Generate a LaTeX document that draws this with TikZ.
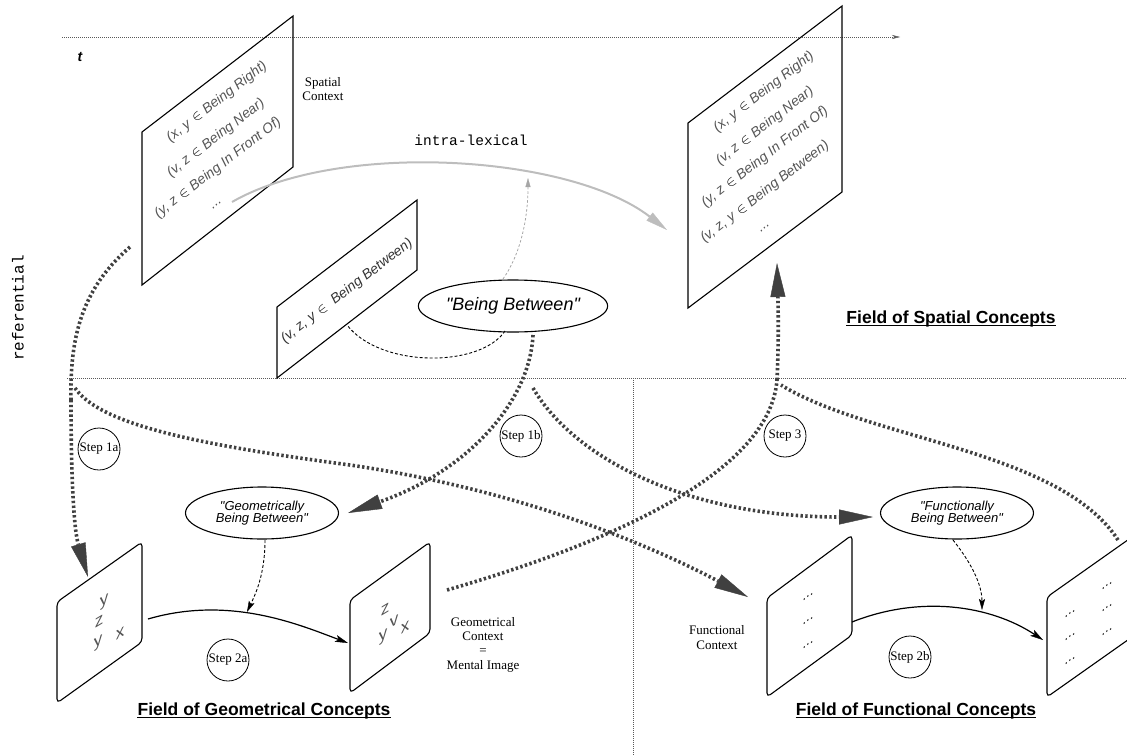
\documentclass[tikz,border=0pt]{standalone}
\usepackage{fontspec}
\setmainfont{Liberation Serif}
\newfontfamily\hv{Liberation Sans}
\newfontfamily\lmono{Liberation Mono}
\usetikzlibrary{arrows.meta,shapes.geometric}
\definecolor{dk}{HTML}{404040}
\definecolor{lg}{HTML}{BDBDBD}
\definecolor{ptxt}{HTML}{555555}
\newcommand{\myin}{\hspace{0.35em}{\color{black}\fontsize{15}{15}\selectfont$\in$}\hspace{0.3em}}
\tikzset{
  thinline/.style={draw=black!65, line width=0.8pt, dash pattern=on 1pt off 1pt},
  panel/.style={draw=black, line width=1.1pt, line join=miter},
  rpanel/.style={draw=black, line width=1.1pt, rounded corners=4pt},
  ptext/.style={rotate=37.5, inner sep=0pt, text=ptxt, font=\hv\itshape\fontsize{14}{14}\selectfont},
  letter/.style={inner sep=0pt, yslant=0.6, text=ptxt, font=\hv\fontsize{17}{17}\selectfont},
  fdots/.style={inner sep=0pt, yslant=0.7, font=\hv\fontsize{13}{13}\selectfont},
  serif/.style={align=center, inner sep=0pt, font=\fontsize{13}{14.3}\selectfont},
  stepc/.style={circle, draw, line width=0.8pt, minimum size=42pt, inner sep=0pt, font=\fontsize{13}{13}\selectfont},
  oval/.style={ellipse, draw, line width=1.1pt, minimum width=153pt, minimum height=52pt, inner sep=0pt, align=center},
  title/.style={anchor=base, inner sep=0pt, font=\hv\bfseries\fontsize{17.5}{17.5}\selectfont},
  bigdot/.style={draw=dk, line width=3.6pt, dash pattern=on 2.4pt off 2.4pt},
  bighead/.style={-{Triangle[length=34pt,width=15pt,line width=0.4pt]}},
  graycurve/.style={draw=lg, line width=2pt, -{Triangle[length=22pt,width=10pt,line width=0.4pt]}},
  thindash/.style={draw=black, line width=0.9pt, dash pattern=on 3pt off 2pt},
  blackhead/.style={-{Stealth[length=11pt,width=6pt,inset=2pt,line width=0.4pt]}},
  solidarrow/.style={draw=black, line width=1.2pt, -{Stealth[length=13pt,width=7pt,inset=3pt,line width=0.4pt]}}
}
\begin{document}
\begin{tikzpicture}[x=1pt,y=-1pt]
\useasboundingbox (0,0) rectangle (1127,755);
\clip (0,0) rectangle (1127,755);

% ---- guide lines ----
\coordinate (tl0) at (62,37); \coordinate (tl1) at (900,37);
\draw[thinline, -{Stealth[length=8pt,width=4pt,line width=0.4pt]}] (tl0) -- (tl1);
\coordinate (h0) at (67,378); \coordinate (h1) at (1127,378);
\draw[thinline] (h0) -- (h1);
\coordinate (v0) at (633,378); \coordinate (v1) at (633,755);
\draw[thinline] (v0) -- (v1);

\node[font=\hv\bfseries\itshape\fontsize{14}{14}\selectfont] (t) at (80,57) {t};
\node[rotate=90, font=\lmono\fontsize{16}{16}\selectfont] (ref) at (18,308) {referential};
\node[font=\lmono\fontsize{14.5}{14.5}\selectfont] (intra) at (471,140) {intra-lexical};

% ---- top-left panel ----
\draw[panel] (142,132) -- (293,16) -- (293,167) -- (142,285) -- cycle;
\node[ptext] (tl1t) at (217,102) {(x, y\myin Being Right)};
\node[ptext] (tl2t) at (216,138) {(v, z\myin Being Near)};
\node[ptext] (tl3t) at (218,168) {(y, z\myin Being In Front Of)};
\node[ptext] (tl4t) at (217,205) {...};
\node[serif] (spc) at (323,89) {Spatial\\Context};

% ---- top-right panel ----
\draw[panel] (688,123) -- (842,6) -- (842,192) -- (688,308) -- cycle;
\node[ptext] (tr1t) at (764,92) {(x, y\myin Being Right)};
\node[ptext] (tr2t) at (765,126) {(v, z\myin Being Near)};
\node[ptext] (tr3t) at (765,157) {(y, z\myin Being In Front Of)};
\node[ptext] (tr4t) at (765,192) {(v, z, y\myin Being Between)};
\node[ptext] (tr5t) at (765,228) {...};

% ---- middle panel ----
\draw[panel] (277,307) -- (417,200) -- (417,270) -- (277,378) -- cycle;
\node[ptext, text=black!80] (mpt) at (347,291) {(v, z, y\myin\ Being Between)};

% ---- ellipses ----
\node[oval, font=\hv\itshape\fontsize{18}{18}\selectfont] (bb) at (513,306) {"Being Between"};
\node[oval, font=\hv\itshape\fontsize{13}{12.7}\selectfont] (gbb) at (262,513) {"Geometrically\\Being Between"};
\node[oval, font=\hv\itshape\fontsize{13}{12.7}\selectfont] (fbb) at (957,513) {"Functionally\\Being Between"};

% ---- step circles ----
\node[stepc] (s1a) at (99,449) {Step 1a};
\node[stepc] (s1b) at (521,436) {Step 1b};
\node[stepc] (s3) at (785,436) {Step 3};
\node[stepc] (s2a) at (228,660) {Step 2a};
\node[stepc] (s2b) at (910,657) {Step 2b};

% ---- bottom panels ----
\draw[rpanel] (57,602) -- (142,542) -- (142,642) -- (57,703) -- cycle;
\node[letter] (gl1) at (104,602) {y};
\node[letter] (gl2) at (99,621) {z};
\node[letter] (gl3) at (98,643) {y};
\node[letter] (gl4) at (120,633) {x};

\draw[rpanel] (350,600) -- (430,542) -- (430,633) -- (350,693) -- cycle;
\node[letter] (gr1) at (385,609) {z};
\node[letter] (gr2) at (394,621) {v};
\node[letter] (gr3) at (383,637) {y};
\node[letter] (gr4) at (405,627) {x};
\node[serif] (gctx) at (483,644.5) {Geometrical\\Context\\=\\Mental Image};

\draw[rpanel] (767,598) -- (852,535) -- (852,635) -- (767,697) -- cycle;
\node[fdots] (fl1) at (808,597) {...};
\node[fdots] (fl2) at (808,621) {...};
\node[fdots] (fl3) at (808,645) {...};
\node[serif] (fctx) at (717,637.5) {Functional\\Context};

\draw[rpanel] (1047,597) -- (1132,537) -- (1132,637) -- (1047,697) -- cycle;
\node[fdots] (fr1) at (1070,614) {...};
\node[fdots] (fr2) at (1070,637) {...};
\node[fdots] (fr3) at (1070,661) {...};
\node[fdots] (fr4) at (1107,586) {...};
\node[fdots] (fr5) at (1107,608) {...};
\node[fdots] (fr6) at (1107,632) {...};

% ---- titles ----
\node[title] (tsp) at (951,323) {Field of Spatial Concepts};
\draw[line width=1.1pt] ([yshift=-2.5pt]tsp.base west) -- ([yshift=-2.5pt]tsp.base east);
\node[title] (tge) at (264,715) {Field of Geometrical Concepts};
\draw[line width=1.1pt] ([yshift=-2.5pt]tge.base west) -- ([yshift=-2.5pt]tge.base east);
\node[title] (tfu) at (916,715) {Field of Functional Concepts};
\draw[line width=1.1pt] ([yshift=-2.5pt]tfu.base west) -- ([yshift=-2.5pt]tfu.base east);

% ---- connector anchor points ----
\coordinate (tldots) at (232,202);
\coordinate (trin) at (667,230);
\coordinate (bbtop) at (503,279);
\coordinate (graytip) at (528,178);
\coordinate (bbbot) at (505,331);
\coordinate (mpbot) at (347,325);
\coordinate (tlbot) at (130,247);
\coordinate (jl) at (71,400);
\coordinate (gltop) at (88,577);
\coordinate (jl2) at (75,388);
\coordinate (mid1) at (350,465);
\coordinate (fltip) at (748,597);
\coordinate (bbb2) at (533,335);
\coordinate (gbbtip) at (348,513);
\coordinate (bbb3) at (533,388);
\coordinate (fbbtip) at (873,517);
\coordinate (grout) at (447,590);
\coordinate (jr) at (777,380);
\coordinate (trtip) at (777,263);
\coordinate (frtop) at (1118,540);
\coordinate (jr2) at (781,385);
\coordinate (glr) at (148,619);
\coordinate (grl) at (348,643);
\coordinate (flr) at (852,622);
\coordinate (frl) at (1043,640);
\coordinate (gbbbot) at (265,540);
\coordinate (g2tip) at (247,612);
\coordinate (fbbbot) at (953,540);
\coordinate (f2tip) at (982,610);

% ---- gray intra-lexical arrows ----
\draw[graycurve] (tldots) .. controls (340,140) and (570,155) .. (trin);
\draw[draw=black!35, line width=0.8pt, dash pattern=on 2.5pt off 2pt,
      -{Triangle[length=9pt,width=5pt,line width=0.3pt]}, black!35]
  (bbtop) .. controls (520,255) and (528,220) .. (graytip);
\draw[thindash] (bbbot) .. controls (480,368) and (380,368) .. (mpbot);

% ---- thick dotted arrows ----
\draw[bigdot, dk] (tlbot) .. controls (80,290) and (70,340) .. (jl);
\draw[bigdot, bighead, dk] (jl) .. controls (71,480) and (74,530) .. (gltop);
\draw[bigdot, bighead, dk] (jl2) .. controls (100,425) and (200,445) .. (mid1)
   .. controls (520,490) and (650,545) .. (fltip);
\draw[bigdot, bighead, dk] (bbb2) .. controls (530,400) and (470,470) .. (gbbtip);
\draw[bigdot, bighead, dk] (bbb3) .. controls (575,460) and (690,517) .. (fbbtip);
\draw[bigdot, dk] (grout) .. controls (620,540) and (770,470) .. (jr);
\draw[bigdot, bighead, dk] (jr) .. controls (779,340) and (778,300) .. (trtip);
\draw[bigdot, dk] (frtop) .. controls (1060,450) and (870,440) .. (jr2);

% ---- step 2 arrows ----
\draw[solidarrow] (glr) .. controls (230,595) and (300,625) .. (grl);
\draw[solidarrow] (flr) .. controls (920,595) and (990,605) .. (frl);
\draw[thindash, blackhead] (gbbbot) .. controls (265,575) and (255,595) .. (g2tip);
\draw[thindash, blackhead] (fbbbot) .. controls (965,555) and (982,580) .. (f2tip);
\end{tikzpicture}
\end{document}
